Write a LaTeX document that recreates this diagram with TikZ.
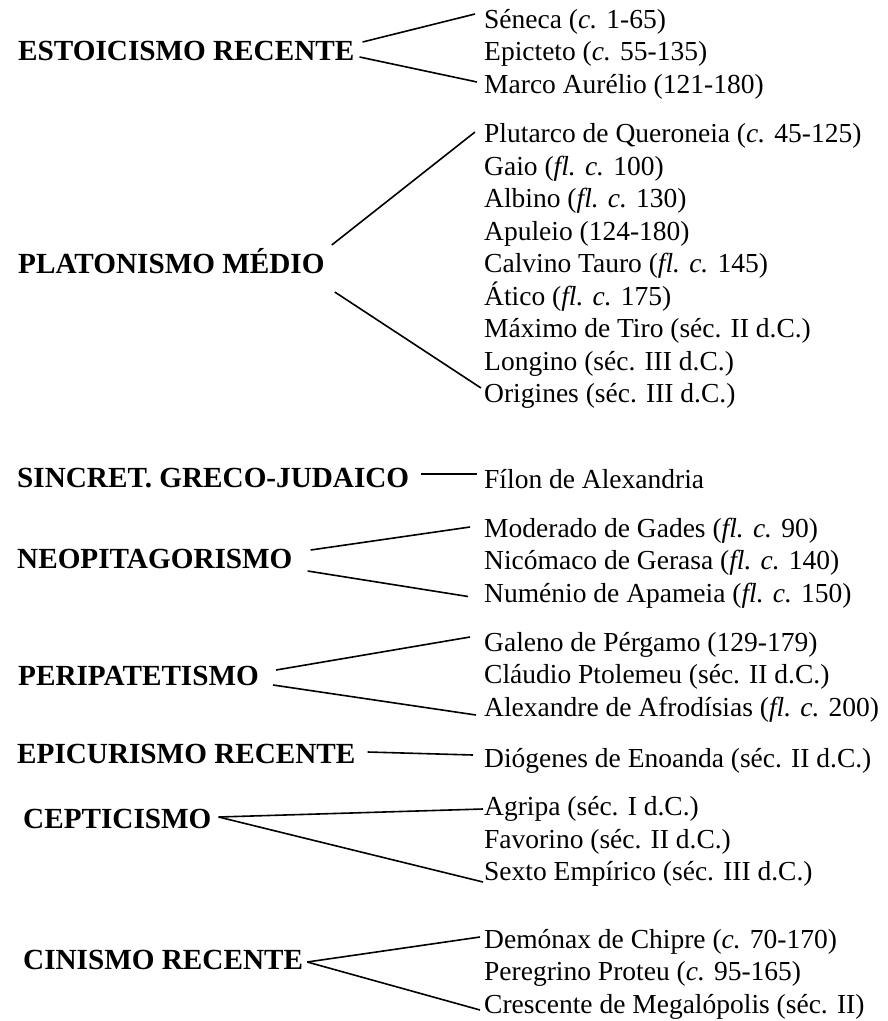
\documentclass[tikz,border=0pt]{standalone}
\usepackage{fontspec}
\setmainfont{Liberation Serif}
\usetikzlibrary{calc}
\begin{document}
\begin{tikzpicture}[x=1pt,y=1pt,
  head/.style={font=\fontsize{29.2}{35}\selectfont\bfseries, inner sep=0pt, anchor=base west},
  item/.style={font=\fontsize{27.5}{32.5}\selectfont, inner sep=0pt, anchor=base west},
  link/.style={line width=1.6pt}]
\useasboundingbox (0,0) rectangle (888,-1021);
\fill[white] (0,0) rectangle (888,-1021);

% Estoicismo recente
\node[head] (h1) at (18,-60) {ESTOICISMO RECENTE};
\node[item] (a1) at (484,-28) {Séneca (\textit{c.} 1-65)};
\node[item] (a2) at (484,-60.5) {Epicteto (\textit{c.} 55-135)};
\node[item] (a3) at (484,-93) {Marco Aurélio (121-180)};
\draw[link] ($(h1.base east)+(8,18)$) -- ($(a1.base west)+(-9,14)$);
\draw[link] ($(h1.base east)+(5,3)$) -- ($(a3.base west)+(-7,11)$);

% Platonismo medio
\node[head] (h2) at (18,-273) {PLATONISMO MÉDIO};
\node[item] (b1) at (484,-142.5) {Plutarco de Queroneia (\textit{c.} 45-125)};
\node[item] (b2) at (484,-175) {Gaio (\textit{fl. c.} 100)};
\node[item] (b3) at (484,-207.5) {Albino (\textit{fl. c.} 130)};
\node[item] (b4) at (484,-240) {Apuleio (124-180)};
\node[item] (b5) at (484,-272.5) {Calvino Tauro (\textit{fl. c.} 145)};
\node[item] (b6) at (484,-305) {Ático (\textit{fl. c.} 175)};
\node[item] (b7) at (484,-337.5) {Máximo de Tiro (séc. II d.C.)};
\node[item] (b8) at (484,-370) {Longino (séc. III d.C.)};
\node[item] (b9) at (484,-402.5) {Origines (séc. III d.C.)};
\draw[link] ($(h2.base east)+(7,28)$) -- ($(b1.base west)+(-9,10.5)$);
\draw[link] ($(h2.base east)+(10,-19)$) -- ($(b9.base west)+(-3,14.5)$);

% Sincretismo greco-judaico
\node[head] (h3) at (17,-487) {SINCRET. GRECO-JUDAICO};
\node[item] (c1) at (484,-488) {Fílon de Alexandria};
\draw[link] ($(h3.base east)+(12,13)$) -- ($(c1.base west)+(-7,14)$);

% Neopitagorismo
\node[head] (h4) at (17,-568) {NEOPITAGORISMO};
\node[item] (d1) at (484,-537) {Moderado de Gades (\textit{fl. c.} 90)};
\node[item] (d2) at (484,-569.5) {Nicómaco de Gerasa (\textit{fl. c.} 140)};
\node[item] (d3) at (484,-602) {Numénio de Apameia (\textit{fl. c.} 150)};
\draw[link] ($(h4.base east)+(18,18)$) -- ($(d1.base west)+(-14,10)$);
\draw[link] ($(h4.base east)+(15,-3)$) -- ($(d3.base west)+(-16,5.5)$);

% Peripatetismo
\node[head] (h5) at (18,-685) {PERIPATETISMO};
\node[item] (e1) at (484,-651) {Galeno de Pérgamo (129-179)};
\node[item] (e2) at (484,-683.5) {Cláudio Ptolemeu (séc. II d.C.)};
\node[item] (e3) at (484,-716) {Alexandre de Afrodísias (\textit{fl. c.} 200)};
\draw[link] ($(h5.base east)+(17,15)$) -- ($(e1.base west)+(-14,14)$);
\draw[link] ($(h5.base east)+(14,0)$) -- ($(e3.base west)+(-8,1)$);

% Epicurismo recente
\node[head] (h6) at (17,-763) {EPICURISMO RECENTE};
\node[item] (f1) at (484,-767) {Diógenes de Enoanda (séc. II d.C.)};
\draw[link] ($(h6.base east)+(12,11)$) -- ($(f1.base west)+(-11,12)$);

% Cepticismo
\node[head] (h7) at (23,-828) {CEPTICISMO};
\node[item] (g1) at (484,-815) {Agripa (séc. I d.C.)};
\node[item] (g2) at (484,-848) {Favorino (séc. II d.C.)};
\node[item] (g3) at (484,-880.5) {Sexto Empírico (séc. III d.C.)};
\draw[link] ($(h7.base east)+(7,11)$) -- ($(g1.base west)+(-1,6)$);
\draw[link] ($(h7.base east)+(7,11)$) -- ($(g3.base west)+(-1,-1.5)$);

% Cinismo recente
\node[head] (h8) at (23,-969) {CINISMO RECENTE};
\node[item] (k1) at (484,-948) {Demónax de Chipre (\textit{c.} 70-170)};
\node[item] (k2) at (484,-980.5) {Peregrino Proteu (\textit{c.} 95-165)};
\node[item] (k3) at (484,-1013) {Crescente de Megalópolis (séc. II)};
\draw[link] ($(h8.base east)+(4,7)$) -- ($(k1.base west)+(-4,11)$);
\draw[link] ($(h8.base east)+(4,7)$) -- ($(k3.base west)+(-4,3)$);
\end{tikzpicture}
\end{document}
